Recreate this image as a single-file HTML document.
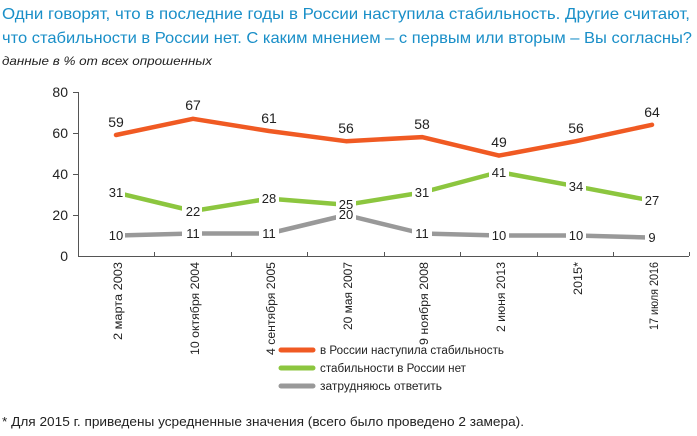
<!DOCTYPE html><html><head><meta charset="utf-8"><style>
body{margin:0;width:697px;height:431px;background:#fff;font-family:"Liberation Sans",sans-serif;overflow:hidden}
</style></head><body>
<svg width="697" height="431" xmlns="http://www.w3.org/2000/svg" font-family="Liberation Sans, sans-serif">
<text x="2" y="19" font-size="16" fill="#1a8fc8" textLength="688" lengthAdjust="spacingAndGlyphs">Одни говорят, что в последние годы в России наступила стабильность. Другие считают,</text>
<text x="2" y="43" font-size="16" fill="#1a8fc8" textLength="690" lengthAdjust="spacingAndGlyphs">что стабильности в России нет. С каким мнением – с первым или вторым – Вы согласны?</text>
<text x="2" y="65" font-size="12" font-style="italic" fill="#222" textLength="210" lengthAdjust="spacingAndGlyphs">данные в % от всех опрошенных</text>
<g stroke="#555" stroke-width="1" fill="none">
<path d="M78.5 92V256.5H689"/>
<path d="M73 92.5h5M73 133.5h5M73 174.5h5M73 215.5h5"/>
<path d="M154.5 256v-4M231.5 256v-4M307.5 256v-4M384.5 256v-4M460.5 256v-4M537.5 256v-4M613.5 256v-4M689.5 256v-4"/>
</g>
<g font-size="14" fill="#222" text-anchor="end">
<text x="68" y="97">80</text><text x="68" y="138">60</text><text x="68" y="179">40</text><text x="68" y="220">20</text><text x="68" y="261">0</text>
</g>
<g fill="none" stroke-width="4.5" stroke-linejoin="round" stroke-linecap="round">
<polyline stroke="#f05a23" points="116,135 193,118.8 269,131 346,141.2 422,137.1 499,155.6 576,141.2 652,124.8"/>
<polyline stroke="#8cc63f" points="116,192.5 193,211 269,198.6 346,204.8 422,192.5 499,172 576,186.3 652,200.7"/>
<polyline stroke="#999" points="116,235.5 193,233.5 269,233.5 346,215 422,233.5 499,235.5 576,235.5 652,237.6"/>
</g>
<g font-size="14" fill="#222" text-anchor="middle">
<text x="116" y="127">59</text><text x="193" y="110">67</text><text x="269" y="123">61</text><text x="346" y="133">56</text><text x="422" y="129">58</text><text x="499" y="147">49</text><text x="576" y="133">56</text><text x="652" y="117">64</text>
</g>
<g font-size="13" fill="#222" text-anchor="middle">
<g fill="#fff"><rect x="105" y="186" width="20" height="13"/><rect x="182" y="205" width="20" height="13"/><rect x="259" y="192" width="20" height="13"/><rect x="336" y="198" width="20" height="13"/><rect x="412" y="186" width="20" height="13"/><rect x="489" y="166" width="20" height="13"/><rect x="566" y="180" width="20" height="13"/><rect x="642" y="194" width="20" height="13"/>
<rect x="105" y="229" width="20" height="13"/><rect x="182" y="227" width="20" height="13"/><rect x="259" y="227" width="20" height="13"/><rect x="336" y="208" width="20" height="13"/><rect x="412" y="227" width="20" height="13"/><rect x="489" y="229" width="20" height="13"/><rect x="566" y="229" width="20" height="13"/><rect x="645" y="231" width="14" height="13"/></g>
<text x="116" y="197">31</text><text x="193" y="216">22</text><text x="269" y="203">28</text><text x="346" y="209">25</text><text x="422" y="197">31</text><text x="499" y="177">41</text><text x="576" y="191">34</text><text x="652" y="205">27</text>
<text x="116" y="240">10</text><text x="193" y="238">11</text><text x="269" y="238">11</text><text x="346" y="219">20</text><text x="422" y="238">11</text><text x="499" y="240">10</text><text x="576" y="240">10</text><text x="652" y="242">9</text>
</g>
<g font-size="11.5" fill="#222" text-anchor="end">
<text transform="translate(122,262) rotate(-90)" textLength="78" lengthAdjust="spacingAndGlyphs">2 марта 2003</text>
<text transform="translate(199,262) rotate(-90)" textLength="93" lengthAdjust="spacingAndGlyphs">10 октября 2004</text>
<text transform="translate(275,262) rotate(-90)" textLength="93" lengthAdjust="spacingAndGlyphs">4 сентября 2005</text>
<text transform="translate(352,262) rotate(-90)" textLength="68" lengthAdjust="spacingAndGlyphs">20 мая 2007</text>
<text transform="translate(428,262) rotate(-90)" textLength="83" lengthAdjust="spacingAndGlyphs">9 ноября 2008</text>
<text transform="translate(505,262) rotate(-90)" textLength="70" lengthAdjust="spacingAndGlyphs">2 июня 2013</text>
<text transform="translate(582,262) rotate(-90)" textLength="33" lengthAdjust="spacingAndGlyphs">2015*</text>
<text transform="translate(658,262) rotate(-90)" textLength="68" lengthAdjust="spacingAndGlyphs">17 июля 2016</text>
</g>
<g stroke-width="5" stroke-linecap="round">
<line x1="281" y1="350" x2="313" y2="350" stroke="#f05a23"/>
<line x1="281" y1="368" x2="313" y2="368" stroke="#8cc63f"/>
<line x1="281" y1="386" x2="313" y2="386" stroke="#999"/>
</g>
<g font-size="11.5" fill="#222">
<text x="320" y="354" textLength="184" lengthAdjust="spacingAndGlyphs">в России наступила стабильность</text>
<text x="320" y="372" textLength="146" lengthAdjust="spacingAndGlyphs">стабильности в России нет</text>
<text x="320" y="390" textLength="122" lengthAdjust="spacingAndGlyphs">затрудняюсь ответить</text>
</g>
<text x="2" y="426" font-size="13" fill="#222" textLength="522" lengthAdjust="spacingAndGlyphs">*  Для 2015 г. приведены усредненные значения (всего было проведено 2 замера).</text>
</svg>
</body></html>
